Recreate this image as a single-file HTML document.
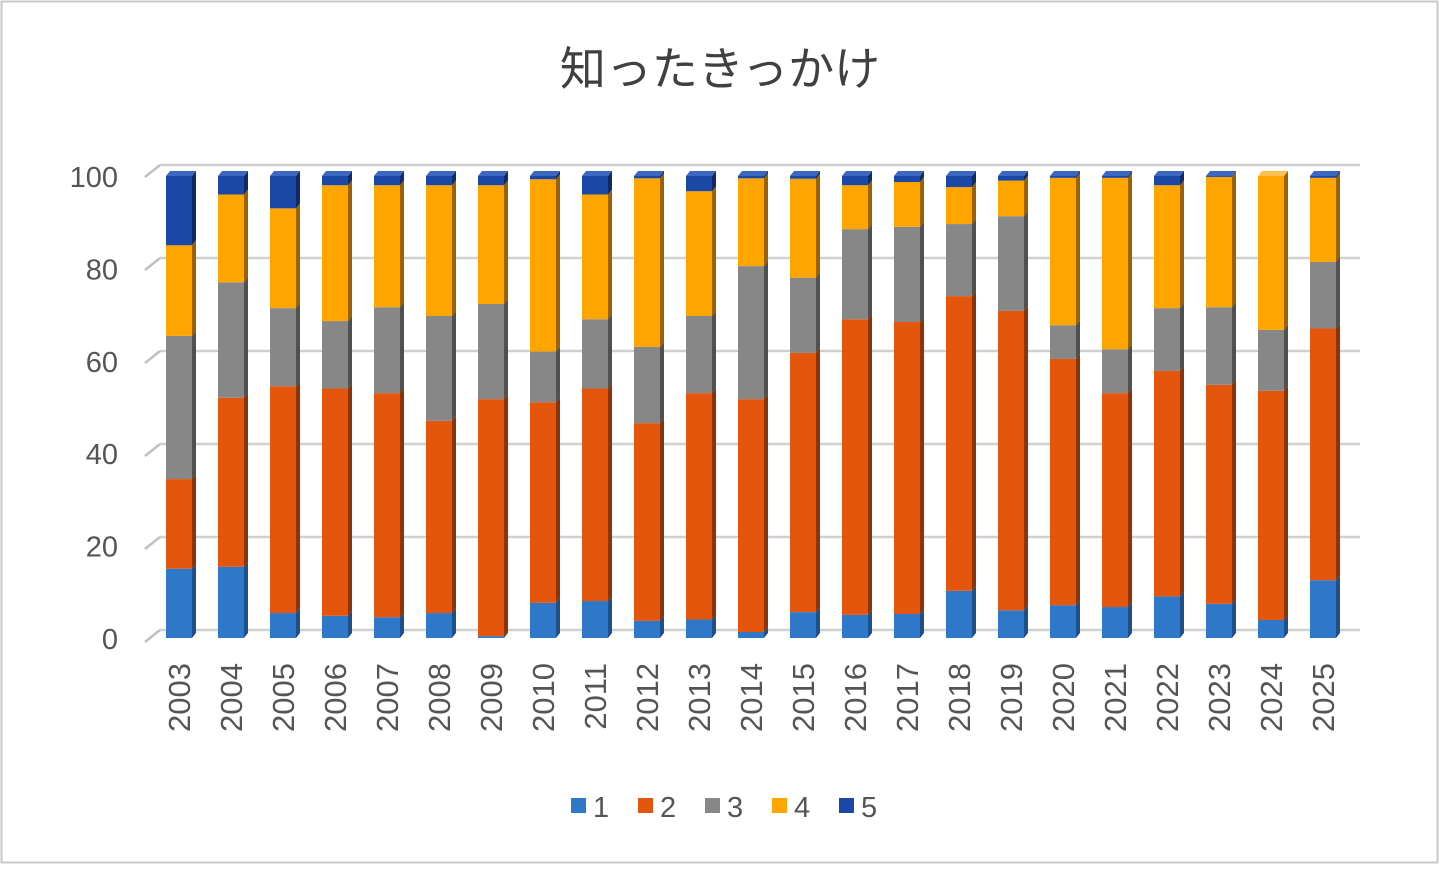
<!DOCTYPE html>
<html><head><meta charset="utf-8">
<style>
html,body{margin:0;padding:0;background:#fff;}
svg{display:block;}
text{font-family:"Liberation Sans","Noto Sans CJK JP",sans-serif;}
</style></head>
<body>
<svg id="chart" width="1440" height="869" viewBox="0 0 1440 869" xmlns="http://www.w3.org/2000/svg">
<rect x="1.5" y="1.5" width="1436" height="861" fill="#fff" stroke="#c8c8c8" stroke-width="2"/>
<text x="720" y="85" text-anchor="middle" font-size="46" fill="#404040">知ったきっかけ</text>
<g id="grid"></g>
<g id="ylabels"></g>
<g id="bars"></g>
<g id="xlabels"></g>
<g id="legend"></g>
</svg>
<script>
const years=["2003","2004","2005","2006","2007","2008","2009","2010","2011","2012","2013","2014","2015","2016","2017","2018","2019","2020","2021","2022","2023","2024","2025"];
const s1=[15,15.4,5.4,4.8,4.5,5.4,0.4,7.6,8,3.7,4,1.3,5.6,5,5.2,10.2,6,7.1,6.7,9,7.4,3.9,12.5];
const s2=[19.4,36.6,49.1,49.2,48.5,41.6,51.3,43.4,46,42.8,49,50.4,56.1,64,63.2,63.8,64.8,53.3,46.3,48.8,47.4,49.6,54.5];
const s3=[31,25,16.9,14.6,18.6,22.7,20.6,11,15,16.5,16.7,28.8,16.3,19.5,20.6,15.6,20.5,7.3,9.5,13.6,16.8,13.2,14.4];
const s4=[19.6,19,21.6,29.4,26.4,28.3,25.7,37.3,27,36.5,27,19,21.4,9.5,9.7,8,7.7,31.9,37.1,26.6,28.2,33.3,18.2];
const s5=[15,4,7,2,2,2,2,0.7,4,0.5,3.3,0.5,0.6,2,1.3,2.4,1,0.4,0.4,2,0.2,0,0.4];
const yTicks=[0,20,40,60,80,100];
const seriesNames=["1","2","3","4","5"];
const series=[s1,s2,s3,s4,s5];
const colors=["#2f78c9","#e5560d","#878787","#ffa500","#1b47a6"];
const sideColors=["#1f4f88","#8c3408","#505050","#9a6300","#102a66"];
const topColors=["#5a95d8","#f07a3e","#a8a8a8","#ffc04d","#3c67c0"];
const NS="http://www.w3.org/2000/svg";
function mk(tag,attrs,parent){const e=document.createElementNS(NS,tag);for(const k in attrs)e.setAttribute(k,attrs[k]);parent.appendChild(e);return e;}
function yFront(v){return 638-v*4.62;}
function yBack(v){return 630-v*4.65;}
function xCenter(i){return 179+i*52;}
const grid=document.getElementById('grid'),yl=document.getElementById('ylabels');
yTicks.forEach(t=>{
  const yb=yBack(t);
  const g=mk('line',{x1:160,y1:yb,x2:1360,y2:yb,stroke:'#d0d0d0','stroke-width':2.5},grid);
  
  
  const d=mk('line',{x1:145,y1:yb+12,x2:160,y2:yb,stroke:'#c0c0c0','stroke-width':2.5},grid);
  
  
  const tx=mk('text',{x:118,y:yFront(t)+11,'text-anchor':'end','font-size':29,fill:'#555'},yl);
  tx.textContent=t;
  
  
});
const bars=document.getElementById('bars'),xl=document.getElementById('xlabels');
const W=26,D=4,DY=5;
years.forEach((yr,i)=>{
  const cx=xCenter(i),x0=cx-W/2;
  let cum=0;
  series.forEach((s,k)=>{
    const v=s[i];if(v<=0)return;
    const yTop=yFront(cum+v),yBot=yFront(cum);
    const g=mk('g',{},bars);
    
    
    mk('rect',{x:x0,y:yTop,width:W,height:yBot-yTop,fill:colors[k]},g);
    mk('polygon',{points:`${x0+W},${yTop} ${x0+W+D},${yTop-DY} ${x0+W+D},${yBot-DY} ${x0+W},${yBot}`,fill:sideColors[k]},g);
    cum+=v;
  });
  const yT=yFront(cum);
  let last=4;while(last>0&&series[last][i]<=0)last--;
  const tf=mk('polygon',{points:`${x0},${yT} ${x0+D},${yT-DY} ${x0+W+D},${yT-DY} ${x0+W},${yT}`,fill:topColors[last]},bars);
  
  
  const t=mk('text',{x:0,y:0,'text-anchor':'end','font-size':31,fill:'#555',transform:`translate(${cx+11},663) rotate(-90)`},xl);
  t.textContent=yr;
  
  
});
const lg=document.getElementById('legend');
const lx=[571,638,705,772,839];
seriesNames.forEach((n,k)=>{
  const g=mk('g',{},lg);
  
  
  mk('rect',{x:lx[k],y:798,width:15,height:15,fill:colors[k]},g);
  const t=mk('text',{x:lx[k]+22,y:817,'font-size':29,fill:'#555'},g);
  t.textContent=n;
});
</script>
</body></html>
